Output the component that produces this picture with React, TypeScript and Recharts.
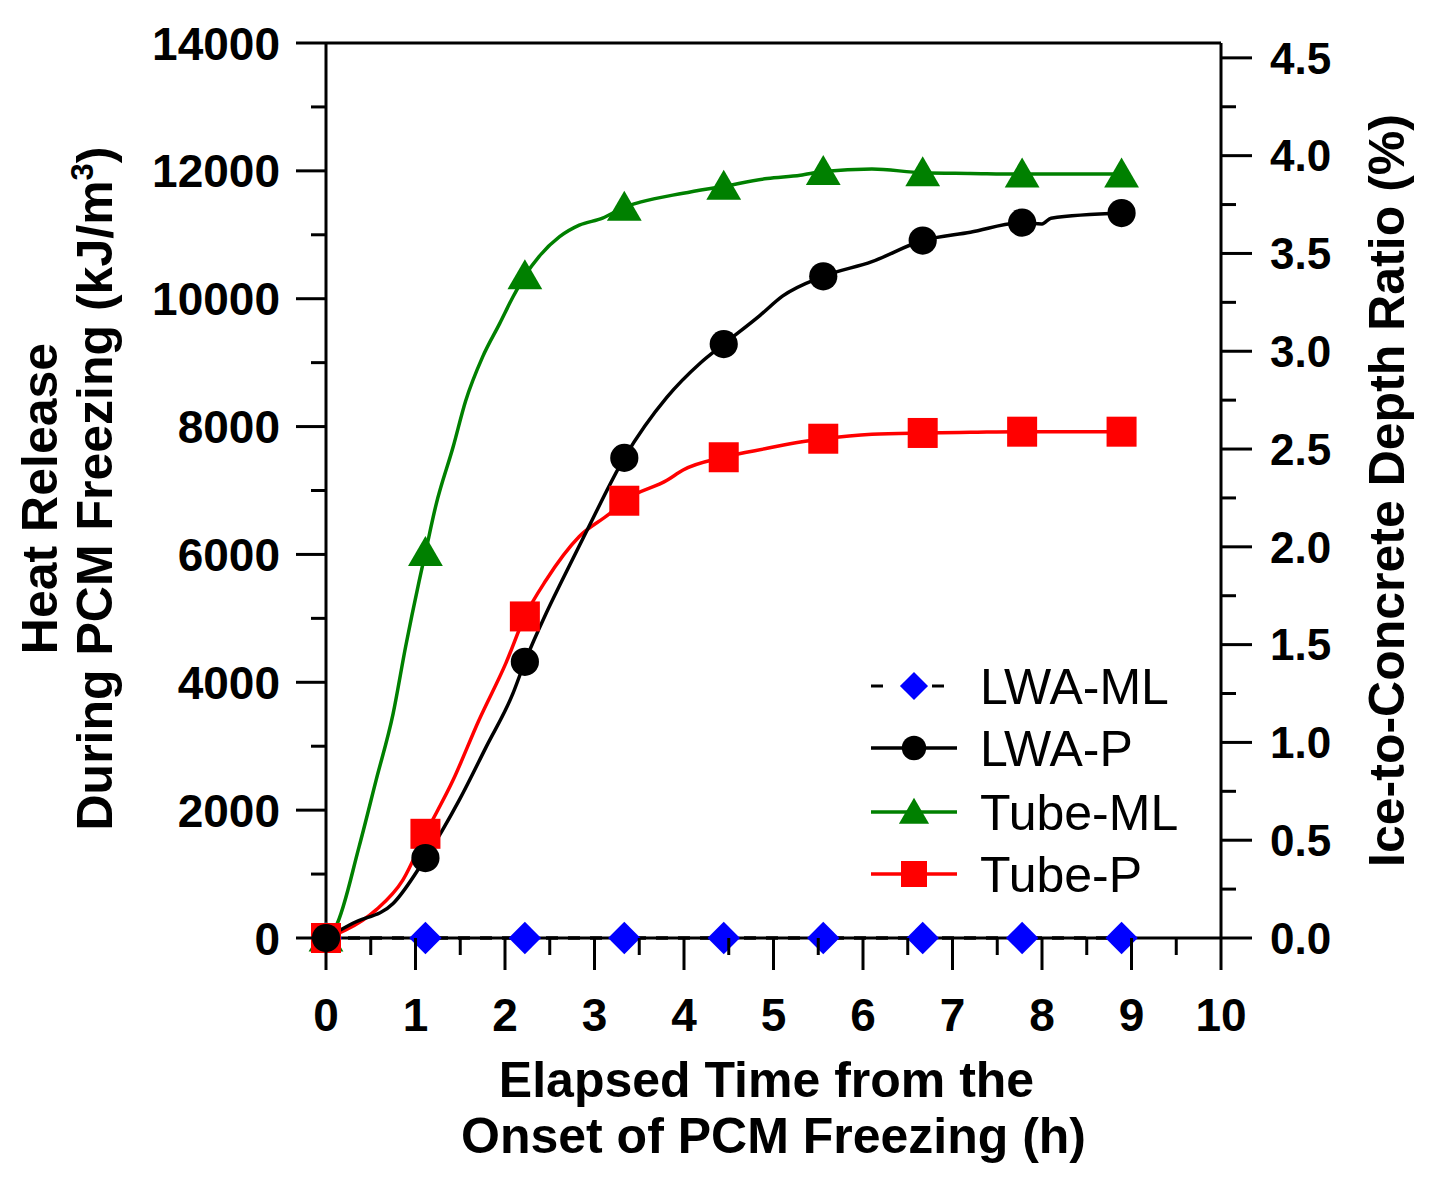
import React from "react";
import { ComposedChart, Line, XAxis, YAxis, ReferenceLine, Legend } from "recharts";

const FONT = '"Liberation Sans", Arial, Helvetica, sans-serif';

// series order = legend order
const seriesNames = ["LWA-ML", "LWA-P", "Tube-ML", "Tube-P"];
const lineColors = ["#000000", "#000000", "#008000", "#ff0000"];
const markerColors = ["#0000ff", "#000000", "#008000", "#ff0000"];
const markerShapes = ["diamond", "circle", "triangle", "square"];

// elapsed time (h) of the plotted symbols
const markerTimes = [0, 1.111, 2.222, 3.333, 4.444, 5.556, 6.667, 7.778, 8.889];

// heat release (kJ/m3) at the symbols
const lwaMlMarks = [0, 0, 0, 0, 0, 0, 0, 0, 0];
const lwaPMarks = [0, 1250, 4320, 7510, 9290, 10350, 10910, 11190, 11340];
const tubeMlMarks = [0, 6030, 10360, 11430, 11760, 11990, 11970, 11950, 11950];
const tubePMarks = [0, 1630, 5030, 6840, 7520, 7810, 7900, 7920, 7920];

// measured curve between symbols: [time h, heat kJ/m3]
const lwaPTrace = [
  [0.3, 230], [0.75, 540], [1.49, 2160], [1.79, 2990], [2.09, 3830], [2.46, 5080],
  [2.64, 5600], [2.9, 6330], [3.81, 8460], [4.18, 8990], [4.85, 9740], [5.1, 10040],
  [6.1, 10580], [7.2, 11040], [8.0, 11170], [8.1, 11260],
];
const tubeMlTrace = [
  [0.11, 180], [0.37, 1430], [0.56, 2470], [0.75, 3510], [0.89, 4560], [1.04, 5580],
  [1.23, 6780], [1.42, 7680], [1.56, 8400], [1.75, 9090], [1.94, 9610], [2.09, 10030],
  [2.38, 10660], [2.61, 10970], [2.83, 11150], [3.09, 11260], [3.51, 11510], [3.99, 11650],
  [4.93, 11880], [5.3, 11930], [6.1, 12030], [7.2, 11960],
];
const tubePTrace = [
  [0.22, 125], [0.56, 440], [0.86, 910], [1.42, 2470], [1.71, 3410], [2.01, 4300],
  [2.46, 5600], [2.83, 6280], [3.17, 6640], [3.81, 7160], [3.99, 7320], [4.93, 7660],
  [5.3, 7760], [6.1, 7880], [7.2, 7910],
];
const lwaMlTrace: number[][] = [];

const xTicks = [0, 0.5, 1, 1.5, 2, 2.5, 3, 3.5, 4, 4.5, 5, 5.5, 6, 6.5, 7, 7.5, 8, 8.5, 9, 9.5, 10];
const leftTicks = [0, 1000, 2000, 3000, 4000, 5000, 6000, 7000, 8000, 9000, 10000, 11000, 12000, 13000, 14000];
const rightTicks = [0, 0.25, 0.5, 0.75, 1, 1.25, 1.5, 1.75, 2, 2.25, 2.5, 2.75, 3, 3.25, 3.5, 3.75, 4, 4.25, 4.5];
const RIGHT_MAX = 4.576; // ratio axis top, aligned with 14000 on the left

type Pt = { t: number; v: number; mark: boolean };

function buildSeries(marks: number[], trace: number[][]): Pt[] {
  const pts: Pt[] = markerTimes.map((t, i) => ({ t, v: marks[i], mark: true }));
  trace.forEach(([t, v]) => pts.push({ t, v, mark: false }));
  return pts.sort((a, b) => a.t - b.t);
}

const seriesData = [
  buildSeries(lwaMlMarks, lwaMlTrace),
  buildSeries(lwaPMarks, lwaPTrace),
  buildSeries(tubeMlMarks, tubeMlTrace),
  buildSeries(tubePMarks, tubePTrace),
];

function Marker({ shape, color, x, y, s }: { shape: string; color: string; x: number; y: number; s: number }) {
  if (shape === "circle") return <circle cx={x} cy={y} r={s * 0.47} fill={color} />;
  if (shape === "square") return <rect x={x - s / 2} y={y - s / 2} width={s} height={s} fill={color} />;
  if (shape === "triangle")
    return (
      <polygon
        points={`${x},${y - s * 0.55} ${x - s * 0.58},${y + s * 0.45} ${x + s * 0.58},${y + s * 0.45}`}
        fill={color}
      />
    );
  return (
    <polygon
      points={`${x},${y - s * 0.54} ${x + s * 0.54},${y} ${x},${y + s * 0.54} ${x - s * 0.54},${y}`}
      fill={color}
    />
  );
}

const markerDot = (shape: string, color: string) => (props: any) => {
  const { cx, cy, payload, index } = props;
  if (!payload || !payload.mark || cx == null || cy == null) return <g key={`n${index}`} />;
  return (
    <g key={`m${index}`}>
      <Marker shape={shape} color={color} x={cx} y={cy} s={30} />
    </g>
  );
};

const LeftTick = (props: any) => {
  const { x, y, payload } = props;
  const major = payload.value % 2000 === 0;
  return (
    <g>
      <line x1={x - (major ? 30 : 15)} x2={x} y1={y} y2={y} stroke="#000" strokeWidth={3} />
      {major && (
        <text x={x - 46} y={y} dy="0.36em" textAnchor="end" fontSize={46} fontWeight="bold" fontFamily={FONT} fill="#000">
          {payload.value}
        </text>
      )}
    </g>
  );
};

const RightTick = (props: any) => {
  const { x, y, payload } = props;
  const v = payload.value as number;
  const major = Math.abs(v * 2 - Math.round(v * 2)) < 1e-6;
  return (
    <g>
      <line x1={x} x2={x + (major ? 31 : 15)} y1={y} y2={y} stroke="#000" strokeWidth={3} />
      {major && (
        <text x={x + 49} y={y} dy="0.36em" textAnchor="start" fontSize={44} fontWeight="bold" fontFamily={FONT} fill="#000">
          {v.toFixed(1)}
        </text>
      )}
    </g>
  );
};

const BottomTick = (props: any) => {
  const { x, y, payload } = props;
  const v = payload.value as number;
  const major = Number.isInteger(v);
  return (
    <g>
      <line x1={x} x2={x} y1={y} y2={y + (major ? 32 : 17)} stroke="#000" strokeWidth={3} />
      {major && (
        <text x={x} y={y + 93} textAnchor="middle" fontSize={46} fontWeight="bold" fontFamily={FONT} fill="#000">
          {v}
        </text>
      )}
    </g>
  );
};

const titleStyle = { fontSize: 50, fontWeight: "bold" as const, fontFamily: FONT, fill: "#000" };

const LeftTitle = (props: any) => {
  const vb = props.viewBox || { x: 0, y: 43, width: 326, height: 895 };
  const cy = vb.y + vb.height / 2;
  return (
    <g>
      <text transform={`translate(${vb.x + 57} ${cy + 8}) rotate(-90)`} textAnchor="middle" {...titleStyle}>
        Heat Release
      </text>
      <text transform={`translate(${vb.x + 112} ${cy - 2}) rotate(-90)`} textAnchor="middle" {...titleStyle}>
        During PCM Freezing (kJ/m<tspan dy={-19} fontSize={31}>3</tspan>
        <tspan dy={19}>)</tspan>
      </text>
    </g>
  );
};

const RightTitle = (props: any) => {
  const vb = props.viewBox || { x: 1221, y: 43, width: 212, height: 895 };
  const cy = vb.y + vb.height / 2;
  return (
    <text transform={`translate(${vb.x + 183} ${cy}) rotate(-90)`} textAnchor="middle" {...titleStyle}>
      Ice-to-Concrete Depth Ratio (%)
    </text>
  );
};

const BottomTitle = (props: any) => {
  const vb = props.viewBox || { x: 326, y: 938, width: 895, height: 246 };
  const cx = vb.x + vb.width / 2;
  return (
    <g>
      <text x={cx - 7} y={vb.y + 159} textAnchor="middle" {...titleStyle}>
        Elapsed Time from the
      </text>
      <text x={cx} y={vb.y + 215} textAnchor="middle" {...titleStyle}>
        Onset of PCM Freezing (h)
      </text>
    </g>
  );
};

const LegendBox = () => {
  const rowY = [36, 98, 162, 224];
  return (
    <svg width={340} height={270} style={{ display: "block", overflow: "visible" }}>
      {seriesNames.map((name, i) => (
        <g key={name}>
          {i === 0 ? (
            <g>
              <line x1={11} x2={23} y1={rowY[i]} y2={rowY[i]} stroke={lineColors[i]} strokeWidth={3} />
              <line x1={72} x2={84} y1={rowY[i]} y2={rowY[i]} stroke={lineColors[i]} strokeWidth={3} />
            </g>
          ) : (
            <line x1={11} x2={97} y1={rowY[i]} y2={rowY[i]} stroke={lineColors[i]} strokeWidth={3.5} />
          )}
          <Marker shape={markerShapes[i]} color={markerColors[i]} x={54} y={rowY[i]} s={26} />
          <text x={120} y={rowY[i] + 18} fontSize={50} fontFamily={FONT} fill="#000">
            {name}
          </text>
        </g>
      ))}
    </svg>
  );
};

// draw order: diamonds at the bottom, circles on top
const drawOrder = [0, 2, 3, 1];

export default function App() {
  return (
    <div style={{ position: "absolute", left: 0, top: 0, width: 1433, height: 1184, background: "#fff" }}>
      <ComposedChart width={1433} height={1184} margin={{ top: 43, right: 0, bottom: 0, left: 0 }}>
        <XAxis
          dataKey="t"
          type="number"
          domain={[0, 10]}
          ticks={xTicks}
          interval={0}
          height={246}
          tickSize={0}
          tickMargin={0}
          tickLine={false}
          tick={<BottomTick />}
          axisLine={{ stroke: "#000", strokeWidth: 3 }}
          label={{ content: <BottomTitle /> }}
        />
        <YAxis
          yAxisId="left"
          type="number"
          domain={[0, 14000]}
          ticks={leftTicks}
          interval={0}
          width={326}
          tickSize={0}
          tickMargin={0}
          tickLine={false}
          tick={<LeftTick />}
          axisLine={{ stroke: "#000", strokeWidth: 3 }}
          label={{ content: <LeftTitle /> }}
        />
        <YAxis
          yAxisId="right"
          orientation="right"
          type="number"
          domain={[0, RIGHT_MAX]}
          ticks={rightTicks}
          interval={0}
          width={212}
          tickSize={0}
          tickMargin={0}
          tickLine={false}
          tick={<RightTick />}
          axisLine={{ stroke: "#000", strokeWidth: 3 }}
          label={{ content: <RightTitle /> }}
        />
        <ReferenceLine yAxisId="left" y={14000} stroke="#000" strokeWidth={3} />
        <Legend
          layout="vertical"
          align="center"
          verticalAlign="middle"
          wrapperStyle={{ left: 860, top: 650, width: 340, height: 270 }}
          content={<LegendBox />}
        />
        {drawOrder.map((i) => (
          <Line
            key={seriesNames[i]}
            name={seriesNames[i]}
            data={seriesData[i]}
            dataKey="v"
            yAxisId={i === 0 ? "right" : "left"}
            type="monotone"
            stroke={lineColors[i]}
            strokeWidth={3.5}
            strokeDasharray={i === 0 ? "12 10" : undefined}
            dot={markerDot(markerShapes[i], markerColors[i])}
            activeDot={false}
            isAnimationActive={false}
          />
        ))}
      </ComposedChart>
    </div>
  );
}
